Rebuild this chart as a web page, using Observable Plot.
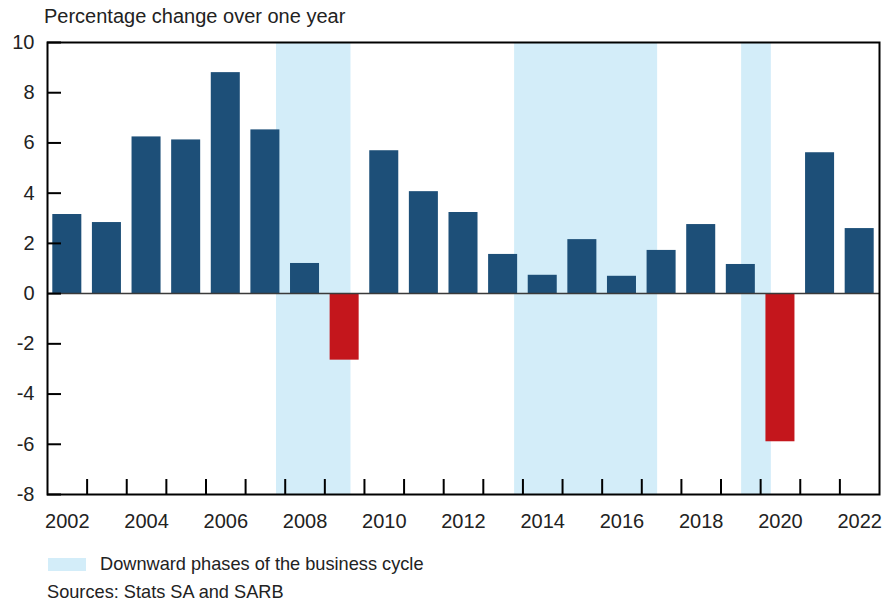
<!DOCTYPE html>
<html>
<head>
<meta charset="utf-8">
<script src="https://cdn.jsdelivr.net/npm/d3@7"></script>
<script src="https://cdn.jsdelivr.net/npm/@observablehq/plot@0.6"></script>
<style>
  body { margin: 0; background: #fff; font-family: "Liberation Sans", Arial, sans-serif; color: #222; }
  #wrap { position: relative; width: 886px; height: 603px; }
  #title { position: absolute; left: 44px; top: 5px; font-size: 20px; }
  #chart { position: absolute; left: 0; top: 0; }
  #legend { position: absolute; left: 48px; top: 554px; font-size: 18.2px; display: flex; align-items: center; }
  #legend .sw { width: 38px; height: 13px; background: #d3edf9; margin-right: 14px; }
  #source { position: absolute; left: 47px; top: 582px; font-size: 18.2px; }
</style>
</head>
<body>
<div id="wrap">
  <div id="title">Percentage change over one year</div>
  <div id="chart"></div>
  <div id="legend"><div class="sw"></div><span>Downward phases of the business cycle</span></div>
  <div id="source">Sources: Stats SA and SARB</div>
</div>
<script>
const years = [2002,2003,2004,2005,2006,2007,2008,2009,2010,2011,2012,2013,2014,2015,2016,2017,2018,2019,2020,2021,2022];
const values = [3.15,2.83,6.24,6.12,8.8,6.52,1.2,-2.65,5.69,4.06,3.23,1.56,0.73,2.15,0.69,1.72,2.75,1.16,-5.9,5.61,2.59];
const downStart = [2007.78, 2013.79, 2019.52];
const downEnd = [2009.66, 2017.40, 2020.27];
const yTicks = [-8,-6,-4,-2,0,2,4,6,8,10];
const xLabelYears = [2002,2004,2006,2008,2010,2012,2014,2016,2018,2020,2022];

const data = years.map((y, i) => ({year: y, value: values[i]}));
const phases = downStart.map((s, i) => ({start: s, end: downEnd[i]}));
const boundaries = years.slice(1);

const blue = "#1d4f78", red = "#c4161c", shade = "#d3edf9";

const W = 886, H = 540, mT = 42, mL = 47, mR = 7, mB = 46;
const plotW = W - mL - mR, plotH = H - mT - mB;

const chart = Plot.plot({
  width: W,
  height: H,
  marginTop: mT,
  marginLeft: mL,
  marginRight: mR,
  marginBottom: mB,
  style: {fontFamily: '"Liberation Sans", Arial, sans-serif', fontSize: "20px", color: "#222", background: "transparent"},
  x: {domain: [2002, 2023], label: null},
  y: {domain: [-8, 10], label: null},
  marks: [
    Plot.rectX(phases, {x1: "start", x2: "end", fill: shade}),
    Plot.rectY(data, {x1: d => d.year, x2: d => d.year + 1, y: "value", insetLeft: 5.3, insetRight: 5.3, fill: d => d.value < 0 ? red : blue}),
    Plot.ruleY([0], {stroke: "#3a3a3a", strokeWidth: 1.5}),
    Plot.ruleX(boundaries, {x: d => d, insetTop: plotH - 15, stroke: "#000", strokeWidth: 2}),
    Plot.ruleY(yTicks, {y: d => d, insetRight: plotW - 14, stroke: "#000", strokeWidth: 2}),
    Plot.frame({stroke: "#000", strokeWidth: 2}),
    Plot.axisX(xLabelYears.map(y => y + 0.5), {tickSize: 0, tickPadding: 19, tickFormat: d => String(d - 0.5), fontSize: 20, label: null}),
    Plot.axisY(yTicks, {tickSize: 0, tickPadding: 13, tickFormat: d => String(d), fontSize: 20, label: null})
  ]
});
document.getElementById("chart").appendChild(chart);
</script>
</body>
</html>
